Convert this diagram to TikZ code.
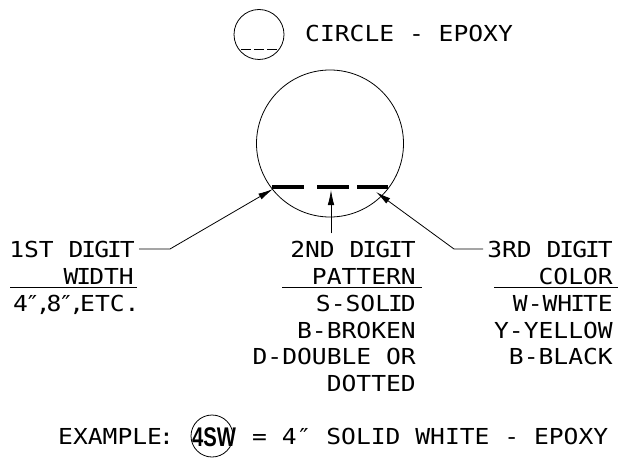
\documentclass[tikz,border=0pt]{standalone}
\usepackage{fontspec}
\usetikzlibrary{arrows.meta}
\newfontfamily\cadfont[FakeStretch=1.12]{DejaVu Sans Mono}
\newfontfamily\boldsans[FakeStretch=0.75]{Liberation Sans}
\newcommand\nI{\kern-2pt I\kern-2pt}
\newcommand\pk[1]{\kern-3pt#1\kern-3pt}
\begin{document}
\begin{tikzpicture}[x=1pt,y=-1pt,
  txt/.style={inner sep=0pt, font=\cadfont\fontsize{22}{22}\selectfont},
  thinline/.style={line width=0.8pt},
  arr/.style={line width=0.8pt, -{Latex[length=15pt,width=6.5pt]}},
  dashbar/.style={line width=3.5pt},
  ring/.style={circle, draw, line width=0.8pt, inner sep=0pt}]
\useasboundingbox (0,0) rectangle (620,465);
% legend circle
\node[ring, minimum size=50pt] (sc) at (259,34.5) {};
\draw[thinline] (241,49) -- (251,49) (254,49) -- (264,49) (267,49) -- (277,49);
\node[txt, anchor=base west] (ct) at (305,41.5) {CIRCLE - EPOXY};
% big circle
\node[ring, minimum size=147pt] (bc) at (330,143.5) {};
\draw[dashbar] (272,187) -- (304,187) (317,187) -- (349,187) (357,187) -- (388,187);
\coordinate (t1) at (273,189);
\coordinate (t2) at (331,190);
\coordinate (t3) at (376,192);
\coordinate (k1) at (170,251);
\coordinate (k3) at (454,251);
% column 1
\node[txt, anchor=base east] (d1) at (135,257) {1ST D\nI G\nI T};
\node[txt, anchor=base east] (w1) at (134,284) {W\nI DTH};
\draw[thinline] (10,287.5) -- (137,287.5);
\node[txt, anchor=base west] (e1) at (13,311.5) {4\pk{″}\kern-1pt,\kern-4pt 8\pk{″}\kern-1pt,\kern-4pt ETC.};
% column 2
\node[txt, anchor=base east] (d2) at (416,257) {2ND D\nI G\nI T};
\node[txt, anchor=base east] (p2) at (416,284) {PATTERN};
\draw[thinline] (282,287.5) -- (422,287.5);
\node[txt, anchor=base east] (s2) at (416,311.5) {S-SOL\nI D};
\node[txt, anchor=base east] (b2) at (416,338) {B-BROKEN};
\node[txt, anchor=base east] (o2) at (416,364.5) {D-DOUBLE OR};
\node[txt, anchor=base east] (t2b) at (416,391) {DOTTED};
% column 3
\node[txt, anchor=base east] (d3) at (613,257) {3RD D\nI G\nI T};
\node[txt, anchor=base east] (c3) at (613,284) {COLOR};
\draw[thinline] (494,287.5) -- (618,287.5);
\node[txt, anchor=base east] (w3) at (613,311.5) {W-WH\nI TE};
\node[txt, anchor=base east] (y3) at (613,338) {Y-YELLOW};
\node[txt, anchor=base east] (b3) at (613,364.5) {B-BLACK};
% leaders
\draw[arr, shorten <=4pt] (d1.east) -- (d1.east -| k1) -- (t1);
\draw[arr] ([yshift=7pt]t2 |- d2.north) -- (t2);
\draw[arr, shorten <=4pt] (d3.west) -- (d3.west -| k3) -- (t3);
% example
\node[txt, anchor=base west] (ex) at (58,444) {EXAMPLE\kern-3pt:};
\node[ring, minimum size=42pt] (ec) at (212,436) {};
\node[inner sep=0pt, font=\boldsans\bfseries\fontsize{27}{27}\selectfont] (sw) at (214,437) {4SW};
\node[txt, anchor=base west] (eq) at (252,444) {= 4″ SOLID WHITE - EPOXY};
\end{tikzpicture}
\end{document}
